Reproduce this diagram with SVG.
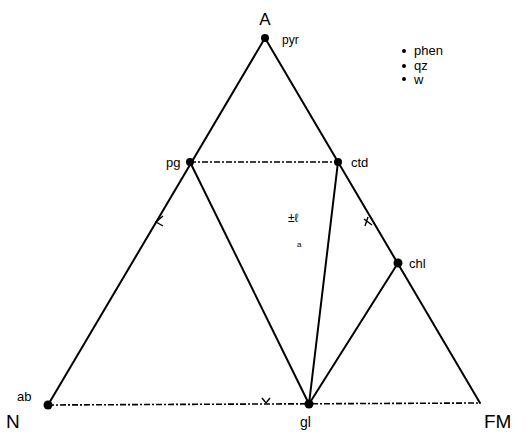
<svg xmlns="http://www.w3.org/2000/svg" width="527" height="433" viewBox="0 0 527 433">
<style>
.e{stroke:#000;stroke-width:2;fill:none;stroke-linecap:round}
.d{stroke:#000;stroke-width:1.6;fill:none;stroke-dasharray:6 2 2 2}
.t{font-family:"Liberation Sans",Arial,sans-serif;fill:#000}
.m{stroke:#000;stroke-width:1.4;fill:none}
</style>
<rect width="527" height="433" fill="#fff"/>
<g id="connectors">
<line class="e" x1="265" y1="38" x2="48" y2="405"/>
<line class="e" x1="265" y1="38" x2="480" y2="403"/>
<line class="d" x1="48" y1="405" x2="480" y2="403"/>
<line class="d" x1="190" y1="162" x2="338" y2="162"/>
<line class="e" x1="190" y1="162" x2="309" y2="404"/>
<line class="e" x1="338" y1="162" x2="309" y2="404"/>
<line class="e" x1="398" y1="263" x2="309" y2="404"/>
<path class="m" d="M163 216 L156 222 L163 226"/>
<path class="m" d="M364 219 L372 225 M368 217 L365 226"/>
<path class="m" d="M262 398 L266 403 L270 398"/>
</g>
<g id="A"><text class="t" x="265" y="25" font-size="17" text-anchor="middle">A</text></g>
<g id="pyr"><circle cx="265" cy="38" r="4"/><text class="t" x="282" y="44" font-size="12">pyr</text></g>
<g id="legend">
<circle cx="404" cy="51" r="2"/><text class="t" x="414" y="55" font-size="13">phen</text>
<circle cx="404" cy="66" r="2"/><text class="t" x="414" y="70" font-size="13">qz</text>
<circle cx="404" cy="79" r="2"/><text class="t" x="414" y="84" font-size="13">w</text>
</g>
<g id="pg"><circle cx="190" cy="162" r="4"/><text class="t" x="166" y="167" font-size="13">pg</text></g>
<g id="ctd"><circle cx="338" cy="162" r="4"/><text class="t" x="351" y="167" font-size="13">ctd</text></g>
<g id="chl"><circle cx="398" cy="263" r="4.5"/><text class="t" x="409" y="268" font-size="13">chl</text></g>
<g id="ab"><circle cx="48" cy="405" r="4.5"/><text class="t" x="17" y="401" font-size="13">ab</text></g>
<g id="gl"><circle cx="309" cy="404" r="4.5"/><text class="t" x="300" y="427" font-size="14">gl</text></g>
<g id="N"><text class="t" x="6" y="428" font-size="19">N</text></g>
<g id="FM"><text class="t" x="484" y="428" font-size="19">FM</text></g>
<g id="mark"><text class="t" x="288" y="222" font-size="12">±ℓ</text><text class="t" x="297" y="247" font-size="8">a</text></g>
</svg>
